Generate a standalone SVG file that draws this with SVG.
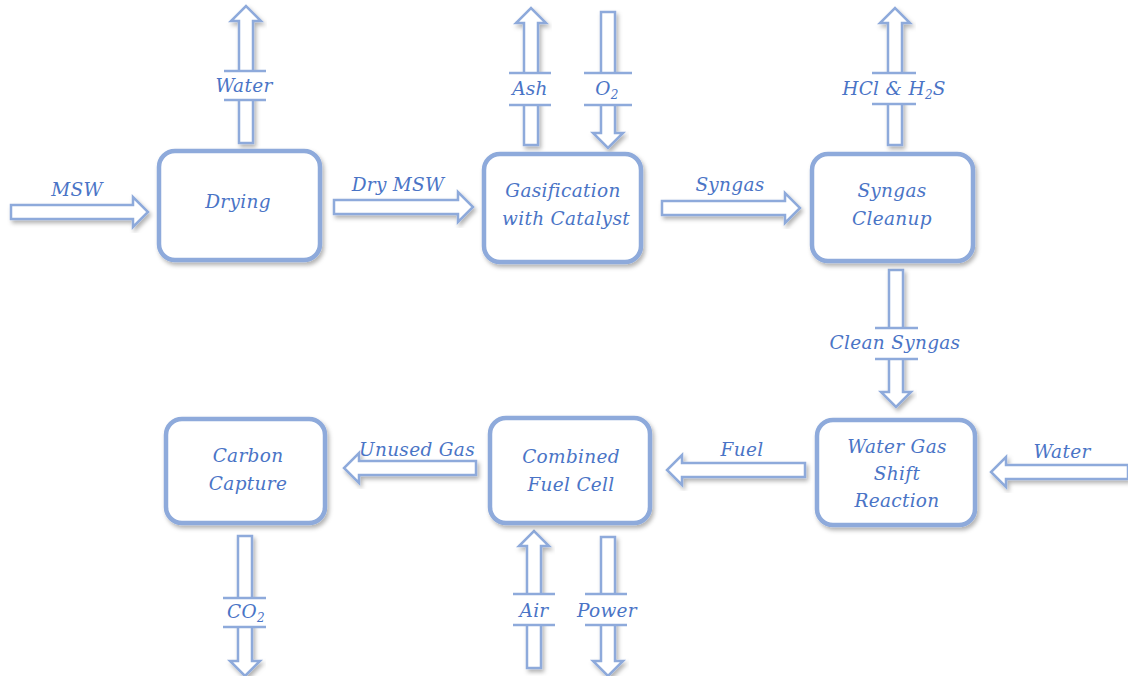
<svg xmlns="http://www.w3.org/2000/svg" width="1128" height="676" viewBox="0 0 1128 676">
<defs>
<filter id="sh" x="-20%" y="-20%" width="140%" height="140%">
<feDropShadow dx="2" dy="3" stdDeviation="2" flood-color="#000" flood-opacity="0.3"/>
</filter>
<style>
.box{fill:#fff;stroke:#8eaadb;stroke-width:4.5;filter:url(#sh)}
.arr{fill:#fff;stroke:#8eaadb;stroke-width:2.5;stroke-linejoin:miter;filter:url(#sh)}
.gap{fill:#fff;stroke:none}
.gl{stroke:#8eaadb;stroke-width:2.5}
text{font-family:"DejaVu Serif","Liberation Serif",serif;font-style:italic;font-size:18.5px;letter-spacing:0.3px;fill:#4a74c6;text-anchor:middle}
.sub{font-size:12px}
</style>
</defs>
<rect width="1128" height="676" fill="#fff"/>
<g id="connectors">
<path class="arr" d="M11 205 H133 V197 L148 212 L133 227 V219 H11 Z"/>
<path class="arr" d="M334 200 H458 V192 L473 207 L458 222 V214 H334 Z"/>
<path class="arr" d="M662 201 H785 V193 L800 208 L785 223 V215 H662 Z"/>
<path class="arr" d="M805 463 H682 V455 L667 470 L682 485 V477 H805 Z"/>
<path class="arr" d="M476 461 H359 V453 L344 468 L359 483 V475 H476 Z"/>
<path class="arr" d="M1128 465 H1006 V457 L991 472 L1006 487 V479 H1128 Z"/>
<path class="arr" d="M239 143 V21 H231 L246 6 L261 21 H253 V143 Z"/>
<path class="arr" d="M524 145 V23 H516 L531 8 L546 23 H538 V145 Z"/>
<path class="arr" d="M601 12 V133 H593 L608 148 L623 133 H615 V12 Z"/>
<path class="arr" d="M888 145 V23 H880 L895 8 L910 23 H902 V145 Z"/>
<path class="arr" d="M889 270 V392 H881 L896 407 L911 392 H903 V270 Z"/>
<path class="arr" d="M238 536 V661 H230 L245 676 L260 661 H252 V536 Z"/>
<path class="arr" d="M527 668 V546 H519 L534 531 L549 546 H541 V668 Z"/>
<path class="arr" d="M601 537 V661 H593 L608 676 L623 661 H615 V537 Z"/>
<g id="gaps">
<rect class="gap" x="222" y="71" width="48" height="29"/><line class="gl" x1="224" y1="71" x2="266" y2="71"/><line class="gl" x1="224" y1="100" x2="266" y2="100"/>
<rect class="gap" x="507" y="73" width="48" height="32"/><line class="gl" x1="509" y1="73" x2="551" y2="73"/><line class="gl" x1="509" y1="105" x2="551" y2="105"/>
<rect class="gap" x="581" y="73" width="54" height="32"/><line class="gl" x1="584" y1="73" x2="632" y2="73"/><line class="gl" x1="584" y1="105" x2="632" y2="105"/>
<rect class="gap" x="869" y="73" width="50" height="31"/><line class="gl" x1="872" y1="73" x2="916" y2="73"/><line class="gl" x1="872" y1="104" x2="916" y2="104"/>
<rect class="gap" x="872" y="328" width="50" height="31"/><line class="gl" x1="875" y1="328" x2="918" y2="328"/><line class="gl" x1="875" y1="359" x2="918" y2="359"/>
<rect class="gap" x="220" y="598" width="50" height="29"/><line class="gl" x1="223" y1="598" x2="266" y2="598"/><line class="gl" x1="223" y1="627" x2="266" y2="627"/>
<rect class="gap" x="510" y="594" width="48" height="31"/><line class="gl" x1="513" y1="594" x2="555" y2="594"/><line class="gl" x1="513" y1="625" x2="555" y2="625"/>
<rect class="gap" x="582" y="594" width="48" height="31"/><line class="gl" x1="585" y1="594" x2="627" y2="594"/><line class="gl" x1="585" y1="625" x2="627" y2="625"/>
</g>
<g id="labels">
<text x="77" y="196">MSW</text>
<text x="398" y="191">Dry MSW</text>
<text x="730" y="191">Syngas</text>
<text x="742" y="456">Fuel</text>
<text x="417" y="456">Unused Gas</text>
<text x="1062" y="458">Water</text>
<text x="244" y="92">Water</text>
<text x="530" y="95">Ash</text>
<text x="607" y="95">O<tspan class="sub" dy="4">2</tspan></text>
<text x="894" y="95">HCl &amp; H<tspan class="sub" dy="4">2</tspan><tspan dy="-4">S</tspan></text>
<text x="895" y="349">Clean Syngas</text>
<text x="246" y="618">CO<tspan class="sub" dy="4">2</tspan></text>
<text x="534" y="617">Air</text>
<text x="607" y="617">Power</text>
</g>
</g>
<g id="drying"><rect class="box" x="159" y="151" width="161" height="109" rx="16"/><text x="238" y="208">Drying</text></g>
<g id="gasification"><rect class="box" x="484" y="154" width="157" height="108" rx="16"/><text x="563" y="197">Gasification</text><text x="566" y="225">with Catalyst</text></g>
<g id="cleanup"><rect class="box" x="812" y="154" width="161" height="107" rx="16"/><text x="892" y="197">Syngas</text><text x="892" y="225">Cleanup</text></g>
<g id="wgs"><rect class="box" x="817" y="420" width="158" height="105" rx="16"/><text x="897" y="453">Water Gas</text><text x="897" y="480">Shift</text><text x="897" y="507">Reaction</text></g>
<g id="fuelcell"><rect class="box" x="490" y="418" width="160" height="105" rx="16"/><text x="571" y="463">Combined</text><text x="571" y="491">Fuel Cell</text></g>
<g id="capture"><rect class="box" x="166" y="419" width="159" height="104" rx="16"/><text x="248" y="462">Carbon</text><text x="248" y="490">Capture</text></g>
</svg>
